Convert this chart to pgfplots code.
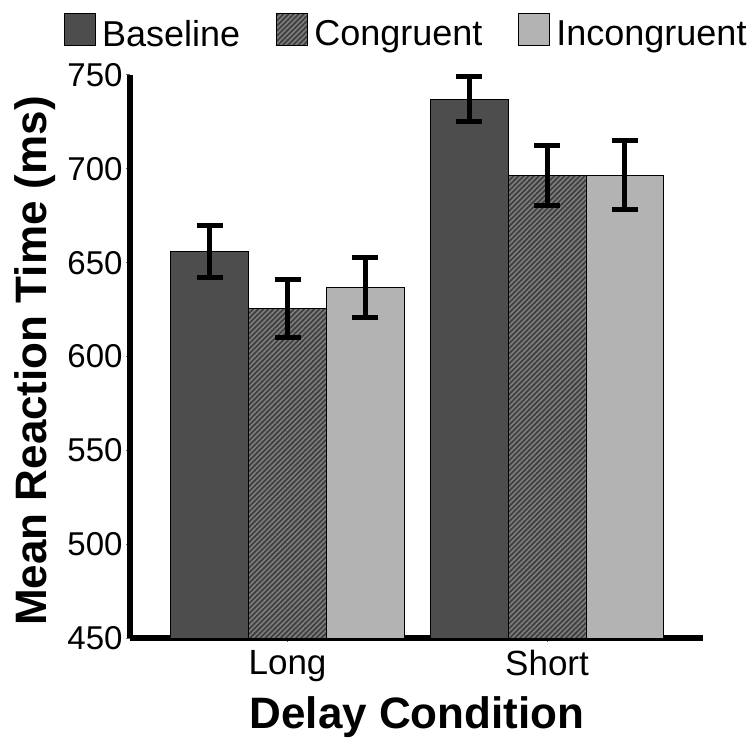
\documentclass[border=0pt]{standalone}
\usepackage{pgfplots}
\pgfplotsset{compat=1.18}
\usepackage{fontspec}
\setmainfont{Liberation Sans}
\usetikzlibrary{patterns.meta}
\definecolor{cbase}{HTML}{4D4D4D}
\definecolor{ccongbg}{HTML}{3F3F3F}
\definecolor{ccongln}{HTML}{7E7E7E}
\definecolor{cincon}{HTML}{B3B3B3}

\pgfplotsset{
  errstyle/.style={
    error bars/.cd, y dir=both, y explicit,
    error bar style={line width=5pt, black},
    error mark options={rotate=90, mark size=13pt, line width=5pt, black},
  },
  sqlegend/.style={legend image code/.code={
    \draw[##1, line width=1pt] (0pt,-12pt) rectangle (31pt,20pt);}},
}

\begin{document}
\begin{tikzpicture}
\begin{axis}[
  scale only axis, width=573pt, height=563pt,
  ybar, bar width=0.3,
  xmin=-0.607, xmax=1.601, ymin=450, ymax=750,
  xtick={0,1}, xticklabels={Long,Short},
  ytick={450,500,...,750},
  axis x line*=bottom, axis y line*=left,
  axis line style={line width=5.5pt},
  tick align=outside, major tick length=4pt,
  tick style={line width=1pt, black!60},
  /pgf/number format/assume math mode=true,
  yticklabel style={font=\fontsize{33}{36}\selectfont},
  xticklabel style={font=\fontsize{35}{38}\selectfont, yshift=-5pt},
  xlabel={Delay Condition},
  ylabel={Mean Reaction Time (ms)},
  label style={font=\fontsize{44}{48}\selectfont\bfseries},
  xlabel style={at={(axis description cs:0.501,-0.160)}, anchor=base},
  ylabel style={at={(axis description cs:-0.166,0.492)}, anchor=center},
  legend columns=3,
  legend style={draw=none, fill=none, inner sep=0pt,
    at={(axis description cs:-0.1152,1.110)}, anchor=north west,
    font=\fontsize{36}{40}\selectfont,
    /tikz/every odd column/.append style={column sep=4pt},
    /tikz/every even column/.append style={column sep=34pt}},
]
\addplot[fill=cbase, draw=black, line width=0.8pt, bar shift=-0.3, sqlegend, errstyle]
  coordinates {(0,656) +- (0,14) (1,737) +- (0,12)};
\addplot[fill=ccongbg, draw=black, line width=0.8pt, bar shift=0,
  postaction={pattern={Lines[angle=45,distance=3.6pt,line width=1.6pt]}, pattern color=ccongln},
  sqlegend, errstyle]
  coordinates {(0,625.5) +- (0,15.3) (1,696.5) +- (0,15.8)};
\addplot[fill=cincon, draw=black, line width=0.8pt, bar shift=0.3, sqlegend, errstyle]
  coordinates {(0,637) +- (0,16) (1,696.5) +- (0,18.4)};
\legend{Baseline,Congruent,Incongruent}
\end{axis}
\path[use as bounding box] (-130pt,-105pt) rectangle (624pt,638pt);
\end{tikzpicture}
\end{document}
